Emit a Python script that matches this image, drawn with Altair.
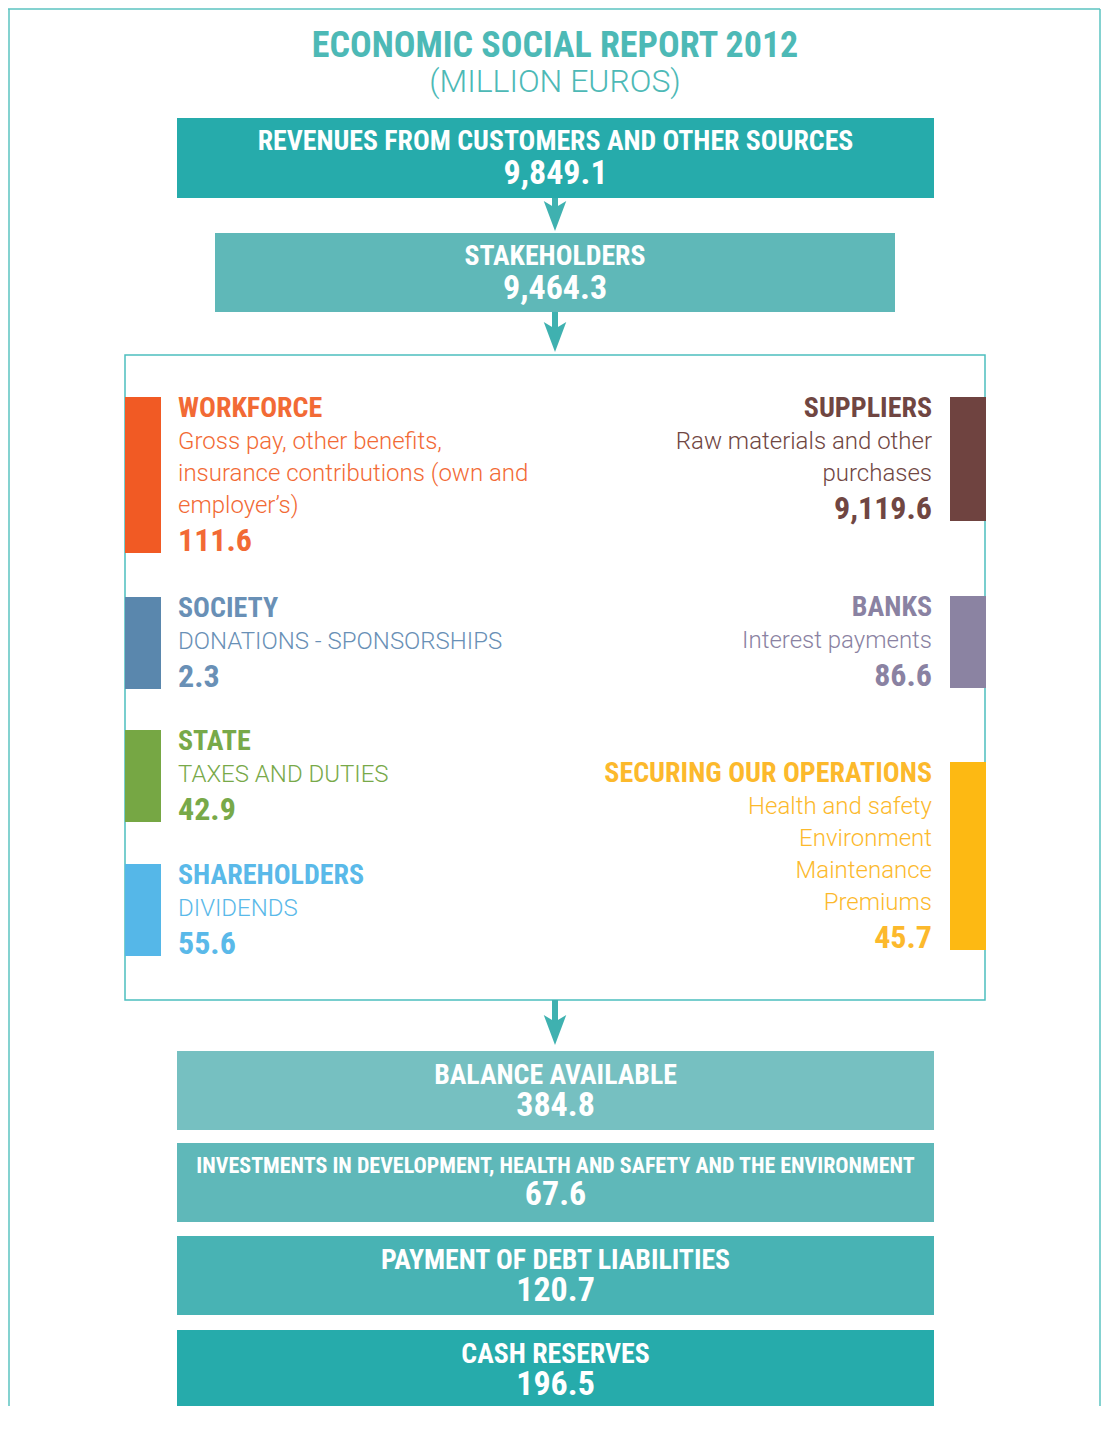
import altair as alt
import pandas as pd

# ------------------------------------------------------------------ data
title_lines = ["ECONOMIC SOCIAL REPORT 2012", "(MILLION EUROS)"]

flow_labels = ["REVENUES FROM CUSTOMERS AND OTHER SOURCES", "STAKEHOLDERS"]
flow_values = [9849.1, 9464.3]

left_names = ["WORKFORCE", "SOCIETY", "STATE", "SHAREHOLDERS"]
left_desc = [
    ["Gross pay, other benefits,", "insurance contributions (own and", "employer’s)"],
    ["DONATIONS - SPONSORSHIPS"],
    ["TAXES AND DUTIES"],
    ["DIVIDENDS"],
]
left_values = [111.6, 2.3, 42.9, 55.6]

right_names = ["SUPPLIERS", "BANKS", "SECURING OUR OPERATIONS"]
right_desc = [
    ["Raw materials and other", "purchases"],
    ["Interest payments"],
    ["Health and safety", "Environment", "Maintenance", "Premiums"],
]
right_values = [9119.6, 86.6, 45.7]

result_labels = [
    "BALANCE AVAILABLE",
    "INVESTMENTS IN DEVELOPMENT, HEALTH AND SAFETY AND THE ENVIRONMENT",
    "PAYMENT OF DEBT LIABILITIES",
    "CASH RESERVES",
]
result_values = [384.8, 67.6, 120.7, 196.5]

# ------------------------------------------------------------------ styles / layout
COND = "'Roboto Condensed', 'Liberation Sans Narrow', 'DejaVu Sans Condensed', Roboto, sans-serif"
LIGHT = "Roboto, 'Open Sans', sans-serif"
TEAL_TEXT = "#4DB9B6"
FRAME = "#5BC3C1"
ARROW = "#3FB1B0"

left_bar_colors = ["#F15A24", "#5A87AD", "#76A744", "#55B7E8"]
left_text_colors = ["#F26A35", "#6990B6", "#78A949", "#5AB9E9"]
left_tops = [397, 597, 730, 864]
right_bar_colors = ["#6F4340", "#8B83A2", "#FDB913"]
right_text_colors = ["#704642", "#8A82A2", "#FCB92C"]
right_tops = [397, 596, 762]

flow_fills = ["#26ABAB", "#5FB8B8"]
flow_rects = [(177, 934, 118, 198), (215, 895, 233, 312)]
result_fills = ["#76C0C1", "#5FB8B9", "#48B3B4", "#26ABAB"]
result_rects = [(177, 934, 1051, 1130), (177, 934, 1143, 1222),
                (177, 934, 1236, 1315), (177, 934, 1330, 1409)]
HEAD_SIZE = 27.8
result_head_size = [HEAD_SIZE, 22, HEAD_SIZE, HEAD_SIZE]

X0, X1 = 8, 1101
Y0, Y1 = 8, 1406


def xq(f):
    return alt.X(f"{f}:Q", scale=alt.Scale(domain=[X0, X1], nice=False, zero=False), axis=None)


def yq(f):
    return alt.Y(f"{f}:Q", scale=alt.Scale(domain=[Y0, Y1], nice=False, zero=False, reverse=True), axis=None)


# ------------------------------------------------------------------ tables
box_rows = []
for lab, val, fill, (a, b, c, d) in zip(flow_labels, flow_values, flow_fills, flow_rects):
    box_rows.append(dict(x0=a, x1=b, y0=c, y1=d, fill=fill, label=lab, value=val,
                         xc=(a + b) / 2, hy=c + 32, vy=c + 66, hs=HEAD_SIZE))
for lab, val, fill, (a, b, c, d), hs in zip(result_labels, result_values, result_fills, result_rects, result_head_size):
    small = hs < 24
    box_rows.append(dict(x0=a, x1=b, y0=c, y1=d, fill=fill, label=lab, value=val,
                         xc=(a + b) / 2, hy=c + (30 if small else 33), vy=c + (62 if small else 65), hs=hs))
boxes = pd.DataFrame(box_rows)

bars, names, descs, vals = [], [], [], []
for side, nm_list, ds_list, v_list, bc, tc, tops in [
    ("left", left_names, left_desc, left_values, left_bar_colors, left_text_colors, left_tops),
    ("right", right_names, right_desc, right_values, right_bar_colors, right_text_colors, right_tops),
]:
    tx = 178 if side == "left" else 932
    bx0, bx1 = (125, 161) if side == "left" else (950, 986)
    for nm, ds, v, b, t, top in zip(nm_list, ds_list, v_list, bc, tc, tops):
        ny = top + 20
        names.append(dict(side=side, x=tx, y=ny, text=nm, c=t))
        for i, line in enumerate(ds):
            descs.append(dict(side=side, x=tx, y=ny + 32 * (i + 1), text=line, c=t))
        vy = ny + 32 * len(ds) + 38
        vals.append(dict(side=side, x=tx, y=vy, value=v, c=t))
        bars.append(dict(x0=bx0, x1=bx1, y0=top, y1=vy + 2, c=b))
bars = pd.DataFrame(bars)
names = pd.DataFrame(names)
descs = pd.DataFrame(descs)
vals = pd.DataFrame(vals)

arrows = pd.DataFrame(dict(x=[555, 555, 555], ytop=[198, 312, 1000], yc=[216, 337, 1030]))

frame = pd.DataFrame(dict(x=[8, 9, 1100], x2=[1100, 9, 1100], y=[9, 9, 9], y2=[9, Y1, Y1]))
inner = pd.DataFrame(dict(x0=[125], x1=[985], y0=[355], y1=[1000]))
titles = pd.DataFrame(dict(x=[555, 555], y=[57, 92], text=title_lines))

# ------------------------------------------------------------------ layers
frame_l = alt.Chart(frame).mark_rule(color=FRAME, strokeWidth=1.5).encode(
    x=xq("x"), x2="x2", y=yq("y"), y2="y2")

inner_l = alt.Chart(inner).mark_rect(filled=False, stroke="#4CBFBF", strokeWidth=1.5).encode(
    x=xq("x0"), x2="x1", y=yq("y0"), y2="y1")

title1 = alt.Chart(titles.iloc[[0]]).mark_text(
    font=COND, fontSize=36, fontWeight="bold", color=TEAL_TEXT, align="center",
    baseline="alphabetic").encode(x=xq("x"), y=yq("y"), text="text:N")
title2 = alt.Chart(titles.iloc[[1]]).mark_text(
    font=LIGHT, fontSize=32, fontWeight=300, color=TEAL_TEXT, align="center",
    baseline="alphabetic").encode(x=xq("x"), y=yq("y"), text="text:N")

box_l = alt.Chart(boxes).mark_rect().encode(
    x=xq("x0"), x2="x1", y=yq("y0"), y2="y1", color=alt.Color("fill:N", scale=None))
box_head = alt.Chart(boxes).mark_text(font=COND, fontWeight="bold", color="white", align="center",
                                      baseline="alphabetic").encode(
    x=xq("xc"), y=yq("hy"), text="label:N", size=alt.Size("hs:Q", scale=None))
box_val = alt.Chart(boxes).mark_text(font=COND, fontWeight="bold", color="white", align="center",
                                     baseline="alphabetic", fontSize=34).encode(
    x=xq("xc"), y=yq("vy"), text=alt.Text("value:Q", format=",.1f"))

shaft = alt.Chart(arrows).mark_rule(color=ARROW, strokeWidth=6).encode(
    x=xq("x"), y=yq("ytop"), y2="yc")
head = alt.Chart(arrows).mark_point(
    shape="M0,1 L-0.75,-1 L0,-0.55 L0.75,-1 Z", filled=True, size=900, color=ARROW,
    opacity=1, strokeWidth=0).encode(x=xq("x"), y=yq("yc"))

bar_l = alt.Chart(bars).mark_rect().encode(
    x=xq("x0"), x2="x1", y=yq("y0"), y2="y1", color=alt.Color("c:N", scale=None))

side_layers = []
for side, al in [("left", "left"), ("right", "right")]:
    side_layers.append(alt.Chart(names[names.side == side]).mark_text(
        font=COND, fontSize=28, fontWeight="bold", align=al, baseline="alphabetic").encode(
        x=xq("x"), y=yq("y"), text="text:N", color=alt.Color("c:N", scale=None)))
    side_layers.append(alt.Chart(descs[descs.side == side]).mark_text(
        font=LIGHT, fontSize=24, fontWeight=300, align=al, baseline="alphabetic").encode(
        x=xq("x"), y=yq("y"), text="text:N", color=alt.Color("c:N", scale=None)))
    side_layers.append(alt.Chart(vals[vals.side == side]).mark_text(
        font=COND, fontSize=32, fontWeight="bold", align=al, baseline="alphabetic").encode(
        x=xq("x"), y=yq("y"), text=alt.Text("value:Q", format=",.1f"),
        color=alt.Color("c:N", scale=None)))

chart = alt.layer(
    frame_l, inner_l, title1, title2, box_l, box_head, box_val, shaft, head, bar_l, *side_layers
).properties(
    width=X1 - X0, height=Y1 - Y0, padding=0,
    autosize=alt.AutoSizeParams(type="none"), background="white",
).configure_view(stroke=None)

chart.save("out.html", embed_options={"renderer": "svg", "actions": False})
